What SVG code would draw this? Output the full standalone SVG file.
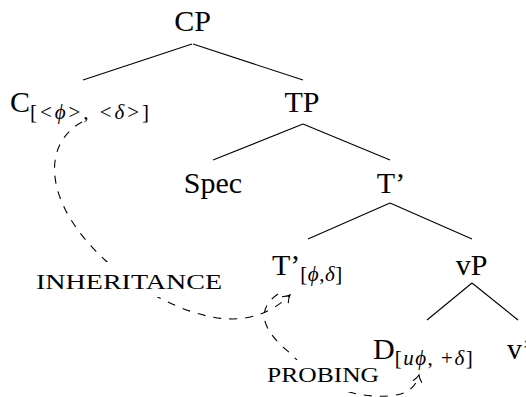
<svg xmlns="http://www.w3.org/2000/svg" width="526" height="397" viewBox="0 0 526 397">
<style>
  .lbl { font-family: "Liberation Serif", "Times New Roman", serif; font-size: 30px; fill: #000; }
  .sub { font-family: "Liberation Serif", "DejaVu Serif", "Times New Roman", serif; font-size: 21px; fill: #000; }
  .sc { font-family: "Liberation Serif", "Times New Roman", serif; font-size: 21px; fill: #000; }
  .it { font-style: italic; }
  .edge { stroke: #000; stroke-width: 1.1; fill: none; }
  .dash { stroke: #000; stroke-width: 1.1; fill: none; stroke-dasharray: 8 8; }
  .mask { fill: #fff; stroke: none; }
</style>
<defs>
  <marker id="arr" viewBox="-10 -6 12 12" refX="0" refY="0" markerWidth="12" markerHeight="12" markerUnits="userSpaceOnUse" orient="auto">
    <path d="M -7 -4.5 Q -3 -1 0 0 Q -3 1 -7 4.5" fill="none" stroke="#000" stroke-width="1.1" stroke-dasharray="none"/>
  </marker>
</defs>
<rect width="526" height="397" fill="#fff"/>

<g id="edges">
  <line class="edge" x1="192" y1="44" x2="83" y2="80"/>
  <line class="edge" x1="193" y1="44" x2="303" y2="80"/>
  <line class="edge" x1="303" y1="124" x2="213" y2="160"/>
  <line class="edge" x1="303" y1="124" x2="390" y2="160"/>
  <line class="edge" x1="390" y1="203" x2="308" y2="239"/>
  <line class="edge" x1="390" y1="203" x2="472" y2="239"/>
  <line class="edge" x1="472" y1="283" x2="427" y2="320"/>
  <line class="edge" x1="472" y1="283" x2="518" y2="320"/>
  <path class="dash" marker-end="url(#arr)" d="M 82 122 C 40 145 45 205 105 260 C 140 292 200 325 245 318 C 265 315 280 305 290 295"/>
  <path class="dash" marker-end="url(#arr)" d="M 278 294 C 255 310 262 330 290 353 C 320 385 350 398 388 396 C 406 395 416 388 419 375"/>
</g>

<g id="cp"><text class="lbl" x="192.5" y="31" text-anchor="middle">CP</text></g>
<g id="c"><text class="lbl" x="10" y="112">C<tspan class="sub" dy="7" textLength="119">[&lt;<tspan class="it">ϕ</tspan>&gt;, &lt;<tspan class="it">δ</tspan>&gt;]</tspan></text></g>
<g id="tp"><text class="lbl" x="302" y="112" text-anchor="middle">TP</text></g>
<g id="spec"><text class="lbl" x="213" y="193" text-anchor="middle">Spec</text></g>
<g id="tbar"><text class="lbl" x="391" y="193" text-anchor="middle">T’</text></g>
<g id="tbar2"><text class="lbl" x="272" y="275">T’<tspan class="sub" dy="6" textLength="42">[<tspan class="it">ϕ</tspan>,<tspan class="it">δ</tspan>]</tspan></text></g>
<g id="vp"><text class="lbl" x="471.5" y="275" text-anchor="middle">vP</text></g>
<g id="d"><text class="lbl" x="373" y="359">D<tspan class="sub" dy="6" textLength="78">[<tspan class="it">uϕ</tspan>, +<tspan class="it">δ</tspan>]</tspan></text></g>
<g id="vbar"><text class="lbl" x="507" y="359">v’</text></g>

<g id="inheritance">
  <rect class="mask" x="30" y="262" width="198" height="35"/>
  <text class="sc" x="36" y="289" textLength="186" lengthAdjust="spacingAndGlyphs">INHERITANCE</text>
</g>
<g id="probing">
  <rect class="mask" x="261" y="360" width="118" height="32"/>
  <text class="sc" x="267" y="382" textLength="112" lengthAdjust="spacingAndGlyphs">PROBING</text>
</g>
</svg>
